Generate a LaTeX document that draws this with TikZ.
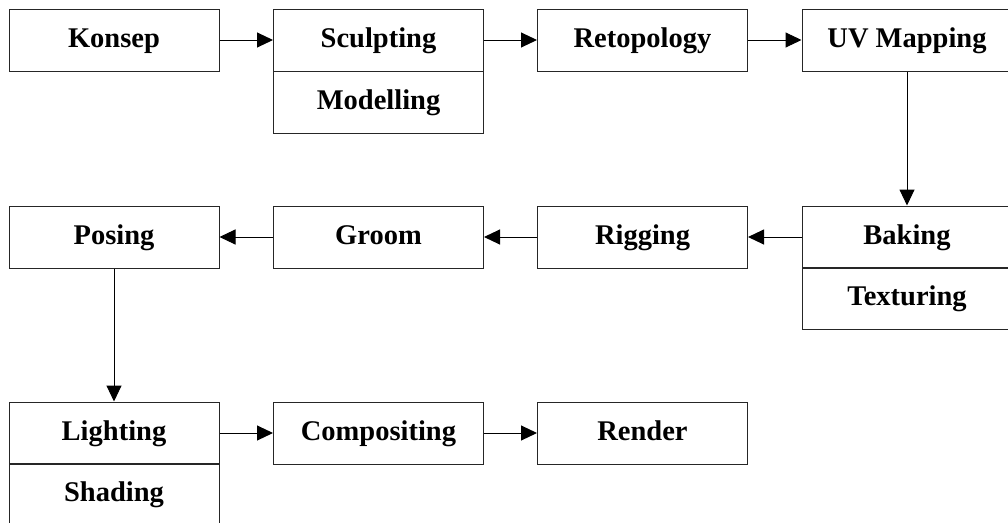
\documentclass[tikz,border=0pt]{standalone}
\usepackage{fontspec}
\setmainfont{Liberation Serif}
\usetikzlibrary{arrows.meta}
\begin{document}
\begin{tikzpicture}[x=1pt,y=-1pt,
  box/.style={draw=black!85,line width=1pt,minimum width=210pt,minimum height=62pt,inner sep=0pt,
    text height=20pt,text depth=6pt,
    font=\fontsize{28.5}{34}\selectfont\bfseries},
  conn/.style={line width=1pt,-{Triangle[length=16pt,width=15pt]}}]
\clip (0,0) rectangle (1008,522);
\fill[white] (0,0) rectangle (1008,522);
% row 1
\node[box] (konsep) at (114,40) {Konsep};
\node[box] (sculpt) at (378.5,40) {Sculpting};
\node[box] (model) at (378.5,102) {Modelling};
\node[box] (retopo) at (642.5,40) {Retopology};
\node[box] (uv) at (907,40) {UV Mapping};
% row 2
\node[box] (posing) at (114,237) {Posing};
\node[box] (groom) at (378.5,237) {Groom};
\node[box] (rigging) at (642.5,237) {Rigging};
\node[box] (baking) at (907,237) {Baking};
\node[box] (texturing) at (907,298.5) {Texturing};
% row 3
\node[box] (lighting) at (114,433) {Lighting};
\node[box] (shading) at (114,494) {Shading};
\node[box] (compositing) at (378.5,433) {Compositing};
\node[box] (render) at (642.5,433) {Render};
% connectors
\draw[conn] (konsep) -- (sculpt);
\draw[conn] (sculpt) -- (retopo);
\draw[conn] (retopo) -- (uv);
\draw[conn] (uv) -- (baking);
\draw[conn] (baking) -- (rigging);
\draw[conn] (rigging) -- (groom);
\draw[conn] (groom) -- (posing);
\draw[conn] (posing) -- (lighting);
\draw[conn] (lighting) -- (compositing);
\draw[conn] (compositing) -- (render);
\end{tikzpicture}
\end{document}
